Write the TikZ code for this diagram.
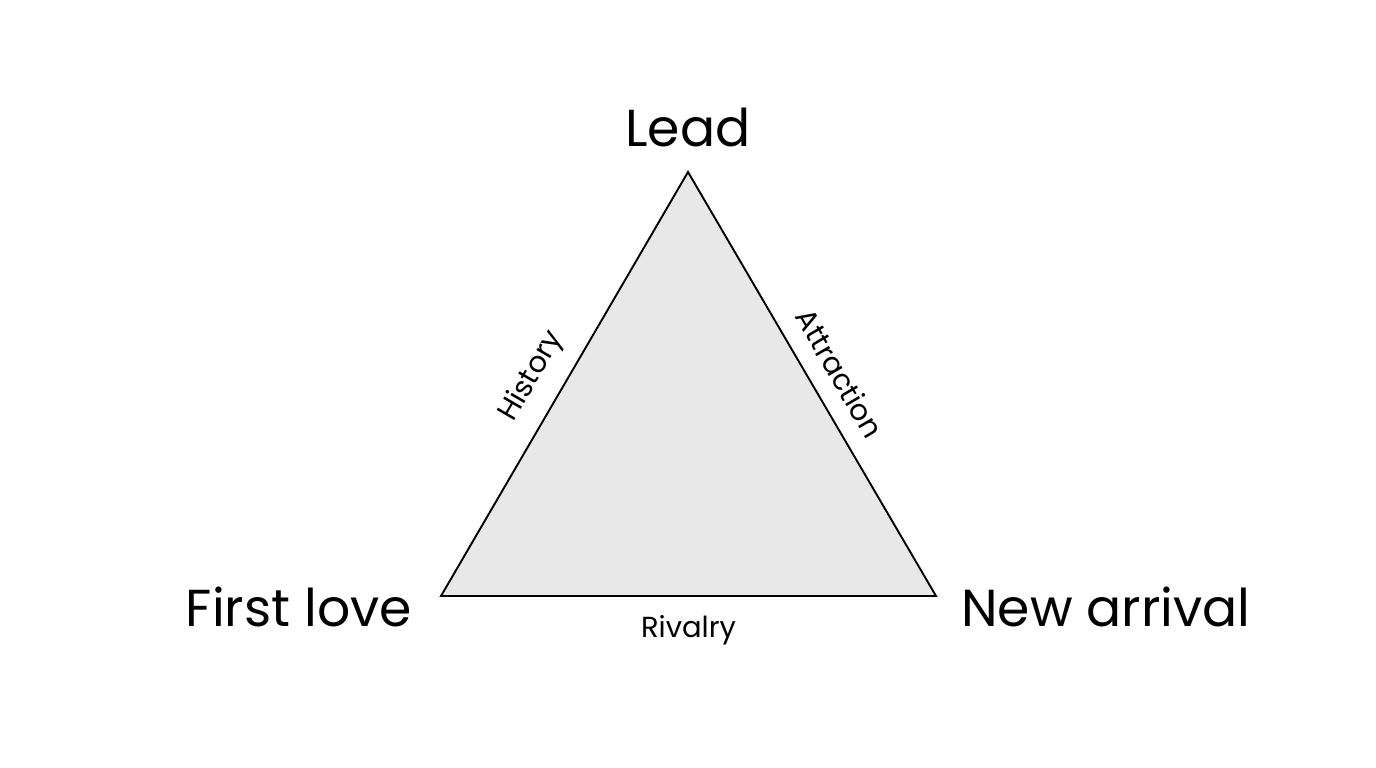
\documentclass[tikz,border=0pt]{standalone}
\usepackage{fontspec}
\setmainfont{Poppins}
\usetikzlibrary{positioning}

\begin{document}
\begin{tikzpicture}[x=1pt,y=1pt,
  corner/.style={font=\fontsize{52}{62}\selectfont, inner sep=0pt},
  side/.style={font=\fontsize{29}{34}\selectfont, inner sep=2pt}]
\useasboundingbox (0,0) rectangle (1376,768);
\fill[white] (0,0) rectangle (1376,768);
\coordinate (lead) at (688,596);
\coordinate (first) at (441,172);
\coordinate (new) at (936,172);
% the triangle
\filldraw[fill=black!9, line width=1.9pt, line join=miter] (first) -- (lead) -- (new) -- cycle;
% corners
\node[corner, above=25pt of lead] (leadlabel) {Lead};
\node[corner, left=29pt of first, yshift=-11pt] (firstlabel) {First love};
\node[corner, right=25pt of new, yshift=-11pt] (newlabel) {New arrival};
% sides
\path (first) -- node[side, sloped, above=15pt, pos=0.48] (history) {History} (lead);
\path (lead) -- node[side, sloped, above=16pt, pos=0.51] (attraction) {Attraction} (new);
\path (first) -- node[side, below=17pt] (rivalry) {Rivalry} (new);
\end{tikzpicture}
\end{document}
